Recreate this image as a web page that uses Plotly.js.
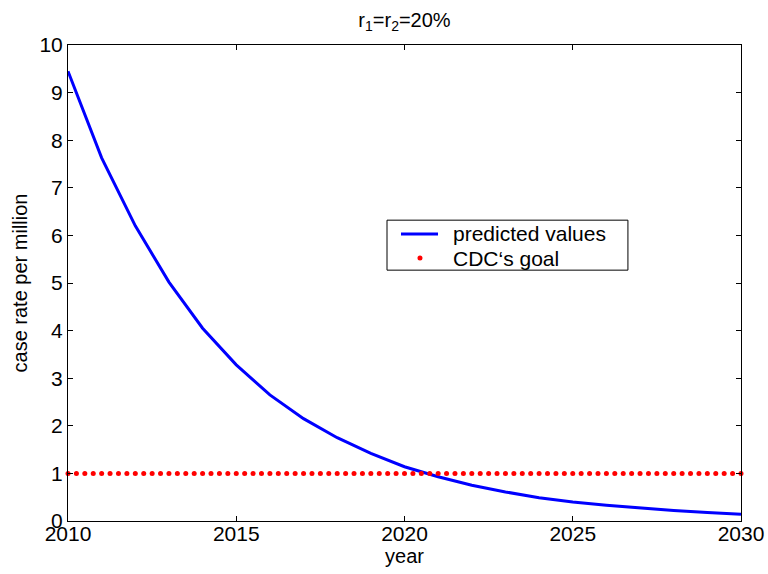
<!DOCTYPE html>
<html>
<head>
<meta charset="utf-8">
<script src="https://cdn.plot.ly/plotly-3.0.1.min.js"></script>
<style>html,body{margin:0;padding:0;background:#fff;}#chart{width:768px;height:574px;}</style>
</head>
<body>
<div id="chart"></div>
<script>
const years = [2010,2011,2012,2013,2014,2015,2016,2017,2018,2019,2020,2021,2022,2023,2024,2025,2026,2027,2028,2029,2030];
const predicted = [9.45,7.63,6.2,5.02,4.05,3.28,2.65,2.15,1.75,1.42,1.14,0.93,0.75,0.61,0.49,0.40,0.33,0.27,0.22,0.18,0.14];
const goalYears = [2010,2010.25,2010.5,2010.75,2011,2011.25,2011.5,2011.75,2012,2012.25,2012.5,2012.75,2013,2013.25,2013.5,2013.75,2014,2014.25,2014.5,2014.75,2015,2015.25,2015.5,2015.75,2016,2016.25,2016.5,2016.75,2017,2017.25,2017.5,2017.75,2018,2018.25,2018.5,2018.75,2019,2019.25,2019.5,2019.75,2020,2020.25,2020.5,2020.75,2021,2021.25,2021.5,2021.75,2022,2022.25,2022.5,2022.75,2023,2023.25,2023.5,2023.75,2024,2024.25,2024.5,2024.75,2025,2025.25,2025.5,2025.75,2026,2026.25,2026.5,2026.75,2027,2027.25,2027.5,2027.75,2028,2028.25,2028.5,2028.75,2029,2029.25,2029.5,2029.75,2030];
const goalValue = 1;
const goal = goalYears.map(() => goalValue);
const xTicks = [2010,2015,2020,2025,2030];
const yTicks = [0,1,2,3,4,5,6,7,8,9,10];
const seriesNames = ['predicted values', 'CDC‘s goal'];

const font = {family: 'Liberation Sans, Arial, sans-serif', color: '#000'};
const blue = '#0000ff', red = '#ff0000';

const traces = [
  {x: years, y: predicted, mode: 'lines', name: seriesNames[0], showlegend: false,
   line: {color: blue, width: 3}, cliponaxis: false},
  {x: goalYears, y: goal, mode: 'markers', name: seriesNames[1], showlegend: false,
   marker: {color: red, size: 5}, cliponaxis: false}
];

const axisCommon = {
  showline: true, linecolor: '#000', linewidth: 1, mirror: 'ticks',
  ticks: 'inside', ticklen: 5, tickcolor: '#000', showgrid: false, zeroline: false,
  tickfont: Object.assign({size: 21}, font)
};

// Legend box (drawn in paper coordinates)
const lg = {x0: 0.474, x1: 0.832, y0: 0.527, y1: 0.632, row1: 0.603, row2: 0.5525,
  lineX0: 0.4948, lineX1: 0.5498, dotX: 0.523, textX: 0.569};

const layout = {
  width: 768, height: 574,
  margin: {l: 68, r: 27, t: 45, b: 53},
  paper_bgcolor: '#fff', plot_bgcolor: '#fff',
  font: font,
  showlegend: false,
  title: {text: 'r<sub>1</sub>=r<sub>2</sub>=20%', font: Object.assign({size: 20}, font),
    xref: 'paper', x: 0.5, xanchor: 'center', yref: 'container', y: 0.966, yanchor: 'middle'},
  xaxis: Object.assign({}, axisCommon, {range: [2010, 2030], tickvals: xTicks, ticktext: xTicks.map(String),
    ticklabelstandoff: -6,
    title: {text: 'year', font: Object.assign({size: 20}, font), standoff: 4}}),
  yaxis: Object.assign({}, axisCommon, {range: [0, 10], tickvals: yTicks, ticktext: yTicks.map(String),
    ticklabelstandoff: 0,
    title: {text: 'case rate per million', font: Object.assign({size: 20}, font), standoff: 6}}),
  shapes: [
    {type: 'rect', xref: 'paper', yref: 'paper', x0: lg.x0, x1: lg.x1, y0: lg.y0, y1: lg.y1,
     line: {color: '#000', width: 1}, fillcolor: '#fff', layer: 'above'},
    {type: 'line', xref: 'paper', yref: 'paper', x0: lg.lineX0, x1: lg.lineX1, y0: lg.row1, y1: lg.row1,
     line: {color: blue, width: 3}, layer: 'above'},
    {type: 'circle', xref: 'paper', yref: 'paper', xsizemode: 'pixel', ysizemode: 'pixel',
     xanchor: lg.dotX, yanchor: lg.row2, x0: -2.5, x1: 2.5, y0: -2.5, y1: 2.5,
     fillcolor: red, line: {width: 0}, layer: 'above'}
  ],
  annotations: [
    {xref: 'paper', yref: 'paper', x: lg.textX, y: lg.row1, xanchor: 'left', yanchor: 'middle',
     text: seriesNames[0], showarrow: false, font: Object.assign({size: 21}, font)},
    {xref: 'paper', yref: 'paper', x: lg.textX, y: lg.row2, xanchor: 'left', yanchor: 'middle',
     text: seriesNames[1], showarrow: false, font: Object.assign({size: 21}, font)}
  ]
};

Plotly.newPlot('chart', traces, layout, {displayModeBar: false, staticPlot: true});
</script>
</body>
</html>
